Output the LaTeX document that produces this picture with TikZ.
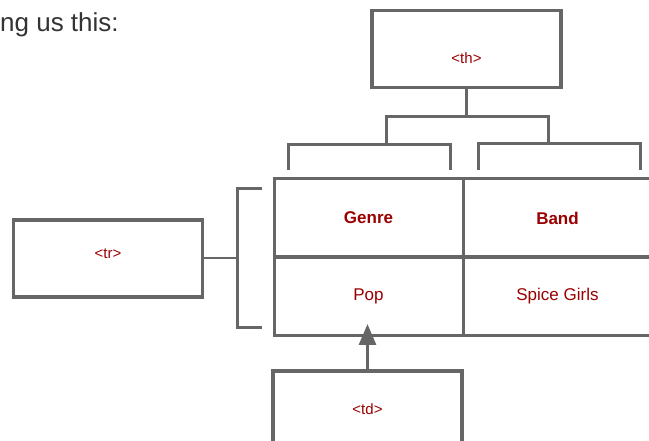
\documentclass[tikz,border=0pt]{standalone}
\usepackage{fontspec}
\setmainfont{Liberation Sans}
\usepackage{tikz}
\usetikzlibrary{arrows.meta}
\definecolor{linegray}{HTML}{666666}
\definecolor{tagred}{HTML}{990000}
\definecolor{textgray}{HTML}{333333}

\begin{document}
\begin{tikzpicture}[x=1pt, y=-1pt,
    tagbox/.style={draw=linegray, line width=3.5pt, minimum width=189pt,
      minimum height=77pt, inner sep=0pt, text=tagred,
      font=\fontsize{15}{15}\selectfont},
    cell/.style={draw=linegray, line width=3pt, minimum width=189pt,
      minimum height=78pt, inner sep=0pt, text=tagred,
      font=\fontsize{17}{17}\selectfont},
    brace/.style={linegray, line width=3pt}]
  \useasboundingbox (0,0) rectangle (649,441);
  \clip (0,0) rectangle (649,441);
  \node[anchor=base west, inner sep=0pt, text=textgray,
        font=\fontsize{26}{26}\selectfont](HEAD) at (0,32) {ng us this:};
  \node[tagbox, text height=29pt, text depth=0pt](TH) at (466.5,49) {<th>};
  \node[tagbox, text height=11pt, text depth=10pt](TR) at (108,258.5) {<tr>};
  \node[tagbox](TD) at (367.5,409.5) {<td>};
  \node[cell, font=\bfseries\fontsize{17}{17}\selectfont](GENRE) at (368.5,218) {Genre};
  \node[cell, font=\bfseries\fontsize{17}{17}\selectfont](BAND) at (557.5,218) {Band};
  \node[cell](POP) at (368.5,296.5) {Pop};
  \node[cell](SPICE) at (557.5,296.5) {Spice Girls};
  \coordinate (BAR) at (0,117);
  \coordinate (TRB) at (237,257);
  \draw[brace] (TH.south) -- (TH.south |- BAR);
  \draw[brace] (386,145) -- (386,117) -- (548,117) -- (548,144);
  \draw[brace] (288,170) -- (288,145) -- (450,145) -- (450,170);
  \draw[brace] (478,170) -- (478,144) -- (640,144) -- (640,170);
  \draw[brace] (262,189) -- (237,189) -- (237,328) -- (262,328);
  \draw[linegray, line width=2pt] (TR.east) -- (TR.east -| TRB);
  \draw[linegray, line width=3pt, -{Triangle[length=21pt,width=17pt]},
        shorten >=-13pt] (TD.north) -- (TD.north |- POP.south);
\end{tikzpicture}
\end{document}
